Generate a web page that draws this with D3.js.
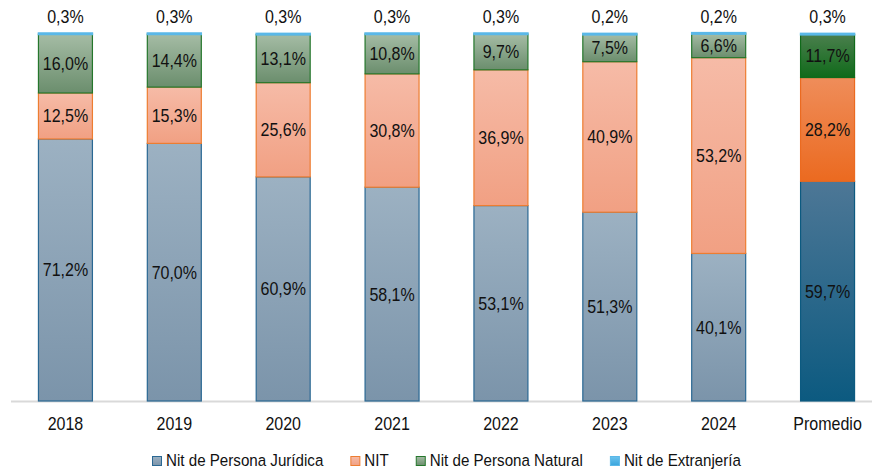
<!DOCTYPE html>
<html>
<head>
<meta charset="utf-8">
<script src="https://cdn.jsdelivr.net/npm/d3@7"></script>
<style>
  body { margin: 0; background: #fff; }
  svg { display: block; font-family: "Liberation Sans", Arial, sans-serif; }
</style>
</head>
<body>
<div id="chart"></div>
<script>
// categories and series
const categories = ["2018", "2019", "2020", "2021", "2022", "2023", "2024", "Promedio"];
const seriesNames = ["Nit de Persona Jurídica", "NIT", "Nit de Persona Natural", "Nit de Extranjería"];
const juridica    = [71.2, 70.0, 60.9, 58.1, 53.1, 51.3, 40.1, 59.7];
const nit         = [12.5, 15.3, 25.6, 30.8, 36.9, 40.9, 53.2, 28.2];
const natural     = [16.0, 14.4, 13.1, 10.8, 9.7, 7.5, 6.6, 11.7];
const extranjeria = [0.3, 0.3, 0.3, 0.3, 0.3, 0.2, 0.2, 0.3];

const width = 872, height = 470;
const margin = { top: 33, right: -10, bottom: 69, left: 11 };
const squeeze = 0.89; // text in the original is a little condensed

// colours: [gradient top, gradient bottom, stroke]
const styles = [
  { top: "#9cb1c2", bot: "#7b94aa", stroke: "#2a6893" },
  { top: "#f6bba7", bot: "#f1a083", stroke: "#ed7d31" },
  { top: "#a5bca5", bot: "#6b8e6d", stroke: "#25772c" },
  { top: "#6cc3ee", bot: "#3aa5dd", stroke: "#5ab8e8" }
];
const stylesAvg = [
  { top: "#4d7796", bot: "#0c5a80", stroke: "#0c5a80" },
  { top: "#ef8d5a", bot: "#eb6a20", stroke: "#eb6a20" },
  { top: "#4a7f4d", bot: "#106a1a", stroke: "#106a1a" },
  { top: "#6cc3ee", bot: "#3aa5dd", stroke: "#5ab8e8" }
];

const svg = d3.select("#chart").append("svg")
  .attr("width", width)
  .attr("height", height);

const defs = svg.append("defs");
function addGrad(id, s) {
  const g = defs.append("linearGradient").attr("id", id)
    .attr("x1", 0).attr("y1", 0).attr("x2", 0).attr("y2", 1);
  g.append("stop").attr("offset", "0%").attr("stop-color", s.top);
  g.append("stop").attr("offset", "100%").attr("stop-color", s.bot);
}
styles.forEach((s, i) => addGrad("g" + i, s));
stylesAvg.forEach((s, i) => addGrad("a" + i, s));

const rows = categories.map((c, i) => ({
  cat: c, s0: juridica[i], s1: nit[i], s2: natural[i], s3: extranjeria[i]
}));
const keys = ["s0", "s1", "s2", "s3"];
const stacked = d3.stack().keys(keys)(rows);

const x = d3.scaleBand()
  .domain(categories)
  .range([margin.left, width - margin.right])
  .paddingInner(0.495)
  .paddingOuter(0.2475);

const y = d3.scaleLinear()
  .domain([0, 100])
  .range([height - margin.bottom, margin.top]);

const fmt = v => d3.format(".1f")(v).replace(".", ",") + "%";

// axis line
svg.append("line")
  .attr("x1", margin.left).attr("x2", width)
  .attr("y1", y(0) + 0.5).attr("y2", y(0) + 0.5)
  .attr("stroke", "#d9d9d9").attr("stroke-width", 2);

// bars
stacked.forEach((layer, li) => {
  svg.append("g").selectAll("rect")
    .data(layer)
    .join("rect")
    .attr("x", d => x(d.data.cat) + 0.5)
    .attr("width", x.bandwidth() - 1)
    .attr("y", d => y(d[1]))
    .attr("height", d => Math.max(y(d[0]) - y(d[1]), 1.5))
    .attr("fill", d => d.data.cat === "Promedio" ? `url(#a${li})` : `url(#g${li})`)
    .attr("stroke", d => d.data.cat === "Promedio" ? stylesAvg[li].stroke : styles[li].stroke)
    .attr("stroke-width", li === 3 ? 1.5 : 1.2);
});

// inside labels
stacked.slice(0, 3).forEach(layer => {
  svg.append("g").selectAll("text")
    .data(layer)
    .join("text")
    .attr("transform", d => `translate(${x(d.data.cat) + x.bandwidth() / 2},${(y(d[0]) + y(d[1])) / 2}) scale(${squeeze},1)`)
    .attr("dy", "0.36em")
    .attr("text-anchor", "middle")
    .attr("font-size", 18)
    .attr("fill", "#111")
    .text(d => fmt(d[1] - d[0]));
});

// top labels (extranjería)
svg.append("g").selectAll("text")
  .data(rows)
  .join("text")
  .attr("transform", d => `translate(${x(d.cat) + x.bandwidth() / 2},23) scale(${squeeze},1)`)
  .attr("text-anchor", "middle")
  .attr("font-size", 18)
  .attr("fill", "#111")
  .text(d => fmt(d.s3));

// x axis labels
const xAxis = d3.axisBottom(x).tickSize(0).tickPadding(16);
svg.append("g")
  .attr("transform", `translate(0,${y(0)})`)
  .call(xAxis)
  .call(g => g.select(".domain").remove())
  .selectAll("text")
  .attr("y", 29)
  .attr("dy", 0)
  .attr("transform", `scale(${squeeze},1)`)
  .attr("font-size", 18)
  .attr("font-family", "Liberation Sans, Arial, sans-serif")
  .attr("fill", "#111");

// legend
const legend = svg.append("g").attr("transform", "translate(152,456)");
let lx = 0;
seriesNames.forEach((name, i) => {
  const item = legend.append("g").attr("transform", `translate(${lx},0)`);
  item.append("rect")
    .attr("x", 0.5).attr("y", 0.5).attr("width", 9).attr("height", 9)
    .attr("fill", `url(#g${i})`)
    .attr("stroke", styles[i].stroke);
  const t = item.append("text")
    .attr("transform", `translate(14,9.5) scale(0.93,1)`)
    .attr("font-size", 16.3)
    .attr("fill", "#111")
    .text(name);
  lx += 14 + t.node().getComputedTextLength() * 0.93 + 27;
});
</script>
</body>
</html>
